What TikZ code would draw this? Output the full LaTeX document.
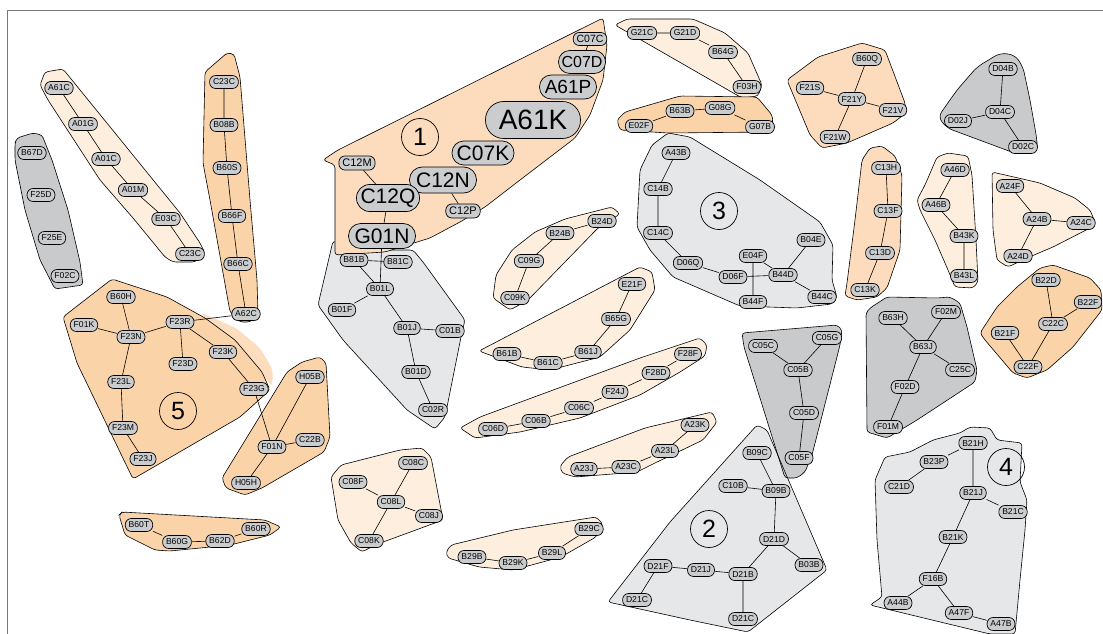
\documentclass[tikz,border=0pt]{standalone}
\usepackage{fontspec}
\setmainfont{Liberation Sans}
\definecolor{lp}{HTML}{FDEEDD}
\definecolor{mp}{HTML}{FCDCBD}
\definecolor{dp}{HTML}{FBD3A8}
\definecolor{lg}{HTML}{E6E7E9}
\definecolor{mg}{HTML}{C9CACC}
\definecolor{ngr}{HTML}{CBCCCE}
\definecolor{frame}{HTML}{777777}
\pgfdeclarelayer{hulllayer}
\pgfdeclarelayer{edgelayer}
\pgfsetlayers{hulllayer,edgelayer,main}
\tikzset{
  nd/.style={draw=black, fill=ngr, line width=0.7pt, inner ysep=0pt, inner xsep=3.4pt,
    minimum height=13pt, rounded corners=6pt, font=\fontsize{#1}{#1}\selectfont},
  nd/.default=8.6,
  big/.style 2 args={minimum width=#1, minimum height=#2, inner xsep=2pt, rounded corners={0.49*#2}},
  edge/.style={draw=black, line width=0.6pt},
  hull/.style={draw=black, line width=0.6pt, rounded corners=3pt},
  num/.style={circle, draw=black, line width=0.7pt, minimum size=37pt, inner sep=0pt, font=\fontsize{25}{25}\selectfont}
}
\begin{document}
\begin{tikzpicture}[x=1pt,y=-1pt]
\useasboundingbox (0,0) rectangle (1103,634);
\begin{pgfonlayer}{hulllayer}
\fill[white] (0,0) rectangle (1103,634);
\draw[frame, line width=1pt] (7,634) -- (7,11) -- (1103,11);

% ---------- hulls ----------
\draw[hull, fill=lp] (40,85) -- (45,72) -- (63,69) -- (180,213) -- (200,243) -- (205,253) -- (195,262) -- (173,262) -- (165,257) -- (133,218) -- (100,180) -- (48,100) -- cycle;
\draw[hull, fill=mg] (15,143) -- (17,138) -- (33,133) -- (42,135) -- (52,160) -- (68,210) -- (80,262) -- (83,285) -- (55,289) -- (40,260) -- (25,210) -- (15,160) -- cycle;
\draw[hull, fill=dp] (205,72) -- (227,53) -- (234,54) -- (240,77) -- (250,200) -- (257,280) -- (258,315) -- (250,322) -- (240,322) -- (230,312) -- (210,200) -- (203,163) -- cycle;
\fill[dp!75, rounded corners=6pt] (200,312) -- (236,328) -- (260,348) -- (273,370) -- (272,388) -- (262,372) -- (235,340) -- (205,318) -- cycle;
\draw[hull, fill=dp] (63,317) -- (112,279) -- (167,297) -- (205,318) -- (235,340) -- (262,372) -- (270,390) -- (240,417) -- (133,479) -- (77,363) -- cycle;
\draw[hull, fill=dp] (222,478) -- (287,372) -- (302,362) -- (320,357) -- (326,363) -- (328,400) -- (330,437) -- (324,452) -- (262,488) -- (245,495) -- (226,488) -- cycle;
\draw[hull, fill=dp] (119,515) -- (122,512) -- (265,520) -- (281,527) -- (270,535) -- (230,545) -- (170,551) -- (155,550) -- (125,535) -- cycle;
\draw[hull, fill=lg] (333,241) -- (318,305) -- (343,340) -- (407,410) -- (435,429) -- (445,417) -- (462,332) -- (465,320) -- (423,262) -- (413,250) -- (380,250) -- cycle;
\draw[hull, fill=mp] (323,160) -- (338,150) -- (603,18) -- (607,45) -- (603,80) -- (590,115) -- (575,138) -- (520,180) -- (485,207) -- (460,222) -- (430,238) -- (385,252) -- (335,255) -- (335,165) -- cycle;
\draw[hull, fill=lp] (615,25) -- (627,19) -- (693,19) -- (725,33) -- (748,53) -- (762,85) -- (758,96) -- (742,98) -- cycle;
\draw[hull, fill=dp] (617,120) -- (625,112) -- (680,96) -- (757,97) -- (772,115) -- (773,122) -- (768,132) -- (668,133) -- (620,130) -- cycle;
\draw[hull, fill=mp] (787,80) -- (818,57) -- (862,43) -- (885,50) -- (905,103) -- (906,113) -- (893,123) -- (847,143) -- (822,148) -- (810,135) -- cycle;
\draw[hull, fill=mg, rounded corners=6pt] (938,117) -- (957,90) -- (977,67) -- (1000,53) -- (1015,55) -- (1023,67) -- (1030,100) -- (1037,140) -- (1037,148) -- (1017,154) -- (947,128) -- cycle;
\draw[hull, fill=lg] (640,170) -- (652,145) -- (668,133) -- (690,137) -- (760,180) -- (820,222) -- (833,245) -- (832,280) -- (837,297) -- (832,304) -- (797,308) -- (740,306) -- (673,277) -- (650,250) -- (637,227) -- cycle;
\draw[hull, fill=lp] (493,298) -- (496,275) -- (512,250) -- (535,232) -- (565,219) -- (612,207) -- (620,214) -- (598,228) -- (528,300) -- (510,310) -- cycle;
\draw[hull, fill=lp] (479,351) -- (640,267) -- (652,272) -- (655,290) -- (630,330) -- (600,357) -- (550,370) -- (522,367) -- cycle;
\draw[hull, fill=lp] (460,428) -- (480,417) -- (640,358) -- (700,338) -- (707,345) -- (705,356) -- (680,372) -- (640,395) -- (580,418) -- (520,432) -- (475,438) -- cycle;
\draw[hull, fill=lp] (560,466) -- (568,457) -- (645,428) -- (712,412) -- (717,422) -- (703,440) -- (657,462) -- (637,472) -- (575,477) -- (562,473) -- cycle;
\draw[hull, fill=lp] (331,477) -- (341,465) -- (400,450) -- (422,448) -- (431,457) -- (443,520) -- (375,545) -- (362,552) -- (351,543) -- (338,520) -- cycle;
\draw[hull, fill=lp] (446,552) -- (451,545) -- (513,530) -- (596,517) -- (603,524) -- (596,537) -- (561,557) -- (513,570) -- (479,567) -- (448,558) -- cycle;
\fill[lg, rounded corners=3pt] (757,425) -- (767,430) -- (827,570) -- (748,632) -- (690,620) -- (608,602) -- (670,522) -- cycle;
\draw[hull, fill=mg] (742,333) -- (837,325) -- (842,330) -- (840,345) -- (812,455) -- (805,472) -- (797,478) -- (785,478) -- (744,347) -- cycle;
\draw[hull] (757,425) -- (767,430) -- (827,570) -- (748,632) -- (690,620) -- (608,602) -- (670,522) -- cycle;
\draw[hull, fill=mp] (862,160) -- (870,148) -- (882,146) -- (895,156) -- (902,175) -- (900,250) -- (887,288) -- (877,297) -- (857,300) -- (845,296) -- (847,283) -- (855,220) -- cycle;
\draw[hull, fill=lp] (917,200) -- (925,185) -- (937,157) -- (948,153) -- (968,156) -- (972,175) -- (976,240) -- (978,282) -- (973,288) -- (955,287) -- (948,270) -- (935,240) -- (920,210) -- cycle;
\draw[hull, fill=lp] (992,172) -- (1040,183) -- (1075,198) -- (1090,210) -- (1095,222) -- (1090,228) -- (1053,247) -- (1027,258) -- (1008,267) -- (997,260) -- (993,230) -- cycle;
\draw[hull, fill=dp] (980,333) -- (997,307) -- (1017,287) -- (1040,268) -- (1053,265) -- (1090,278) -- (1101,290) -- (1102,310) -- (1073,347) -- (1047,370) -- (1027,378) -- (1013,373) -- (985,340) -- cycle;
\draw[hull, fill=mg] (866,313) -- (870,308) -- (887,297) -- (937,298) -- (950,297) -- (960,303) -- (967,327) -- (977,370) -- (975,382) -- (917,420) -- (887,438) -- (867,432) -- cycle;
\draw[hull, fill=lg] (870,605) -- (882,597) -- (877,540) -- (875,480) -- (885,457) -- (910,452) -- (933,440) -- (960,433) -- (970,427) -- (990,428) -- (997,440) -- (1022,443) -- (1020,482) -- (1027,500) -- (1025,530) -- (1020,580) -- (1015,634) -- (990,634) -- cycle;
\end{pgfonlayer}

% ---------- numbers ----------
\node[num] (n1) at (420,137) {1};
\node[num] (n2) at (709,529) {2};
\node[num] (n3) at (719,211) {3};
\node[num] (n4) at (1006,467) {4};
\node[num] (n5) at (178,411) {5};

% ---------- nodes ----------
\node[nd] (A61C) at (59,88) {A61C};
\node[nd] (A01G) at (83,124) {A01G};
\node[nd] (A01C) at (106,159) {A01C};
\node[nd] (A01M) at (133,190) {A01M};
\node[nd] (E03C) at (166,219) {E03C};
\node[nd] (C23Ca) at (190,254) {C23C};
\node[nd] (B67D) at (32,153) {B67D};
\node[nd] (F25D) at (41,195) {F25D};
\node[nd] (F25E) at (52,238) {F25E};
\node[nd] (F02C) at (65,276) {F02C};
\node[nd] (C23Cb) at (224,82) {C23C};
\node[nd] (B08B) at (224,125) {B08B};
\node[nd] (B60S) at (227,168) {B60S};
\node[nd] (B66F) at (232,216) {B66F};
\node[nd] (B66C) at (238,264) {B66C};
\node[nd] (A62C) at (246,314) {A62C};
\node[nd] (B60H) at (121,297) {B60H};
\node[nd] (F01K) at (84,325) {F01K};
\node[nd] (F23N) at (131,337) {F23N};
\node[nd] (F23R) at (180,322) {F23R};
\node[nd] (F23D) at (183,364) {F23D};
\node[nd] (F23K) at (223,352) {F23K};
\node[nd] (F23L) at (121,382) {F23L};
\node[nd] (F23G) at (254,389) {F23G};
\node[nd] (F23M) at (123,428) {F23M};
\node[nd] (F23J) at (143,459) {F23J};
\node[nd] (H05B) at (310,377) {H05B};
\node[nd] (F01N) at (272,447) {F01N};
\node[nd] (C22B) at (310,440) {C22B};
\node[nd] (H05H) at (246,483) {H05H};
\node[nd] (B60T) at (139,525) {B60T};
\node[nd] (B60G) at (177,542) {B60G};
\node[nd] (B62D) at (220,541) {B62D};
\node[nd] (B60R) at (256,529) {B60R};
\node[nd=10.5] (C07C) at (590,39) {C07C};
\node[nd=16, big={47pt}{23pt}] (C07D) at (582,62) {C07D};
\node[nd=19, big={57pt}{24pt}] (A61P) at (568,87) {A61P};
\node[nd=28, big={95pt}{37pt}] (A61K) at (533,120) {A61K};
\node[nd=21, big={62pt}{24pt}] (C07K) at (483,153) {C07K};
\node[nd=21, big={67pt}{26pt}] (C12N) at (443,180) {C12N};
\node[nd=21, big={63pt}{27pt}] (C12Q) at (388,198) {C12Q};
\node[nd=21, big={67pt}{25pt}] (G01N) at (382,236) {G01N};
\node[nd=11, minimum height=14pt] (C12M) at (357,163) {C12M};
\node[nd=11, minimum height=14pt] (C12P) at (463,211) {C12P};
\node[nd] (B81B) at (354,260) {B81B};
\node[nd] (B81C) at (398,262) {B81C};
\node[nd] (B01L) at (380,289) {B01L};
\node[nd] (B01F) at (342,310) {B01F};
\node[nd] (B01J) at (407,328) {B01J};
\node[nd] (C01B) at (450,331) {C01B};
\node[nd] (B01D) at (416,372) {B01D};
\node[nd] (C02R) at (433,410) {C02R};
\node[nd] (B24D) at (602,221) {B24D};
\node[nd] (B24B) at (560,233) {B24B};
\node[nd] (C09G) at (529,261) {C09G};
\node[nd] (C09K) at (515,298) {C09K};
\node[nd] (E21F) at (632,284) {E21F};
\node[nd] (B65G) at (616,319) {B65G};
\node[nd] (B61J) at (588,352) {B61J};
\node[nd] (B61C) at (548,363) {B61C};
\node[nd] (B61B) at (507,354) {B61B};
\node[nd] (F28F) at (688,354) {F28F};
\node[nd] (F28D) at (656,373) {F28D};
\node[nd] (F24J) at (615,392) {F24J};
\node[nd] (C06C) at (579,408) {C06C};
\node[nd] (C06B) at (536,421) {C06B};
\node[nd] (C06D) at (493,429) {C06D};
\node[nd] (A23K) at (695,425) {A23K};
\node[nd] (A23L) at (665,451) {A23L};
\node[nd] (A23C) at (626,467) {A23C};
\node[nd] (A23J) at (584,469) {A23J};
\node[nd] (C08C) at (413,463) {C08C};
\node[nd] (C08F) at (353,482) {C08F};
\node[nd] (C08L) at (391,502) {C08L};
\node[nd] (C08J) at (429,516) {C08J};
\node[nd] (C08K) at (369,541) {C08K};
\node[nd] (B29B) at (472,557) {B29B};
\node[nd] (B29K) at (513,563) {B29K};
\node[nd] (B29L) at (552,553) {B29L};
\node[nd] (B29C) at (589,529) {B29C};
\node[nd] (G21C) at (642,33) {G21C};
\node[nd] (G21D) at (685,33) {G21D};
\node[nd] (B64G) at (723,52) {B64G};
\node[nd] (F03H) at (747,87) {F03H};
\node[nd] (E02F) at (639,126) {E02F};
\node[nd] (B63B) at (680,111) {B63B};
\node[nd] (G08G) at (720,108) {G08G};
\node[nd] (G07B) at (760,127) {G07B};
\node[nd] (B60Q) at (867,59) {B60Q};
\node[nd] (F21S) at (810,88) {F21S};
\node[nd] (F21Y) at (852,99) {F21Y};
\node[nd] (F21V) at (893,110) {F21V};
\node[nd] (F21W) at (835,137) {F21W};
\node[nd] (D04B) at (1003,69) {D04B};
\node[nd] (D04C) at (1000,112) {D04C};
\node[nd] (D02J) at (958,121) {D02J};
\node[nd] (D02C) at (1023,147) {D02C};
\node[nd] (A43B) at (676,153) {A43B};
\node[nd] (C14B) at (658,189) {C14B};
\node[nd] (C14C) at (658,233) {C14C};
\node[nd] (D06Q) at (688,263) {D06Q};
\node[nd] (D06F) at (733,277) {D06F};
\node[nd] (E04F) at (753,256) {E04F};
\node[nd] (B44D) at (783,275) {B44D};
\node[nd] (B04E) at (811,240) {B04E};
\node[nd] (B44C) at (822,297) {B44C};
\node[nd] (B44F) at (753,302) {B44F};
\node[nd] (C13H) at (886,168) {C13H};
\node[nd] (C13F) at (888,211) {C13F};
\node[nd] (C13D) at (880,253) {C13D};
\node[nd] (C13K) at (865,290) {C13K};
\node[nd] (A46D) at (955,170) {A46D};
\node[nd] (A46B) at (936,205) {A46B};
\node[nd] (B43K) at (964,236) {B43K};
\node[nd] (B43L) at (964,276) {B43L};
\node[nd] (A24F) at (1010,186) {A24F};
\node[nd] (A24B) at (1037,219) {A24B};
\node[nd] (A24C) at (1081,223) {A24C};
\node[nd] (A24D) at (1018,256) {A24D};
\node[nd] (B22D) at (1046,280) {B22D};
\node[nd] (B22F) at (1088,302) {B22F};
\node[nd] (C22C) at (1053,324) {C22C};
\node[nd] (B21F) at (1005,333) {B21F};
\node[nd] (C22F) at (1028,367) {C22F};
\node[nd] (B63H) at (893,318) {B63H};
\node[nd] (F02M) at (946,312) {F02M};
\node[nd] (B63J) at (923,347) {B63J};
\node[nd] (C25C) at (960,370) {C25C};
\node[nd] (F02D) at (905,387) {F02D};
\node[nd] (F01M) at (888,427) {F01M};
\node[nd] (C05C) at (763,346) {C05C};
\node[nd] (C05G) at (827,338) {C05G};
\node[nd] (C05B) at (798,370) {C05B};
\node[nd] (C05D) at (804,413) {C05D};
\node[nd] (C05F) at (799,458) {C05F};
\node[nd] (B09C) at (757,453) {B09C};
\node[nd] (C10B) at (733,486) {C10B};
\node[nd] (B09B) at (776,491) {B09B};
\node[nd] (D21D) at (774,539) {D21D};
\node[nd] (B03B) at (809,565) {B03B};
\node[nd] (D21F) at (658,566) {D21F};
\node[nd] (D21J) at (701,570) {D21J};
\node[nd] (D21B) at (743,574) {D21B};
\node[nd] (D21Ca) at (637,600) {D21C};
\node[nd] (D21Cb) at (743,619) {D21C};
\node[nd] (B21H) at (973,443) {B21H};
\node[nd] (B23P) at (934,462) {B23P};
\node[nd] (C21D) at (899,487) {C21D};
\node[nd] (B21J) at (973,493) {B21J};
\node[nd] (B21C) at (1013,512) {B21C};
\node[nd] (B21K) at (953,537) {B21K};
\node[nd] (F16B) at (933,579) {F16B};
\node[nd] (A44B) at (898,603) {A44B};
\node[nd] (A47F) at (959,613) {A47F};
\node[nd] (A47B) at (1001,624) {A47B};

% ---------- edges ----------
\begin{pgfonlayer}{edgelayer}
\path[edge] (A61C)--(A01G) (A01G)--(A01C) (A01C)--(A01M) (A01M)--(E03C) (E03C)--(C23Ca);
\path[edge] (C23Cb)--(B08B) (B08B)--(B60S) (B60S)--(B66F) (B66F)--(B66C) (B66C)--(A62C);
\path[edge] (B60H)--(F23N) (F01K)--(F23N) (F23N)--(F23R) (F23N)--(F23L) (F23L)--(F23M) (F23M)--(F23J)
  (F23R)--(F23D) (F23R)--(F23K) (F23K)--(F23G) (F23R)--(A62C) (F23G)--(F01N);
\path[edge] (H05B)--(F01N) (F01N)--(C22B) (F01N)--(H05H);
\path[edge] (B60T)--(B60G) (B60G)--(B62D) (B62D)--(B60R);
\path[edge] (C07C)--(C07D) (C12M)--(C12Q) (C12N)--(C12P) (C12Q)--(G01N) (G01N)--(B01L);
\path[edge] (B81B)--(B81C) (B81B)--(B01L) (B01L)--(B01F) (B01L)--(B01J) (B01J)--(C01B) (B01J)--(B01D) (B01D)--(C02R);
\path[edge] (B24D)--(B24B) (B24B)--(C09G) (C09G)--(C09K);
\path[edge] (E21F)--(B65G) (B65G)--(B61J) (B61J)--(B61C) (B61C)--(B61B);
\path[edge] (F28F)--(F28D) (F28D)--(F24J) (F24J)--(C06C) (C06C)--(C06B) (C06B)--(C06D);
\path[edge] (A23K)--(A23L) (A23L)--(A23C) (A23C)--(A23J);
\path[edge] (C08C)--(C08L) (C08F)--(C08L) (C08L)--(C08J) (C08L)--(C08K);
\path[edge] (B29B)--(B29K) (B29K)--(B29L) (B29L)--(B29C);
\path[edge] (G21C)--(G21D) (G21D)--(B64G) (B64G)--(F03H);
\path[edge] (E02F)--(B63B) (B63B)--(G08G) (G08G)--(G07B);
\path[edge] (B60Q)--(F21Y) (F21S)--(F21Y) (F21Y)--(F21V) (F21Y)--(F21W);
\path[edge] (D04B)--(D04C) (D02J)--(D04C) (D04C)--(D02C);
\path[edge] (A43B)--(C14B) (C14B)--(C14C) (C14C)--(D06Q) (D06Q)--(D06F) (D06F)--(B44D) (E04F)--(B44D) (E04F)--(B44F) (B44D)--(B04E) (B44D)--(B44C);
\path[edge] (C13H)--(C13F) (C13F)--(C13D) (C13D)--(C13K);
\path[edge] (A46D)--(A46B) (A46B)--(B43K) (B43K)--(B43L);
\path[edge] (A24F)--(A24B) (A24B)--(A24C) (A24B)--(A24D);
\path[edge] (B22D)--(C22C) (B22F)--(C22C) (C22C)--(C22F) (B21F)--(C22F);
\path[edge] (B63H)--(B63J) (F02M)--(B63J) (B63J)--(C25C) (B63J)--(F02D) (F02D)--(F01M);
\path[edge] (C05C)--(C05B) (C05G)--(C05B) (C05B)--(C05D) (C05D)--(C05F);
\path[edge] (B09C)--(B09B) (C10B)--(B09B) (B09B)--(D21D) (D21D)--(B03B) (D21D)--(D21B) (D21F)--(D21J) (D21J)--(D21B) (D21B)--(D21Cb) (D21F)--(D21Ca);
\path[edge] (B21H)--(B23P) (B23P)--(C21D) (B21H)--(B21J) (B21J)--(B21C) (B21J)--(B21K) (B21K)--(F16B) (F16B)--(A44B) (F16B)--(A47F) (A47F)--(A47B);
\end{pgfonlayer}
\end{tikzpicture}
\end{document}
